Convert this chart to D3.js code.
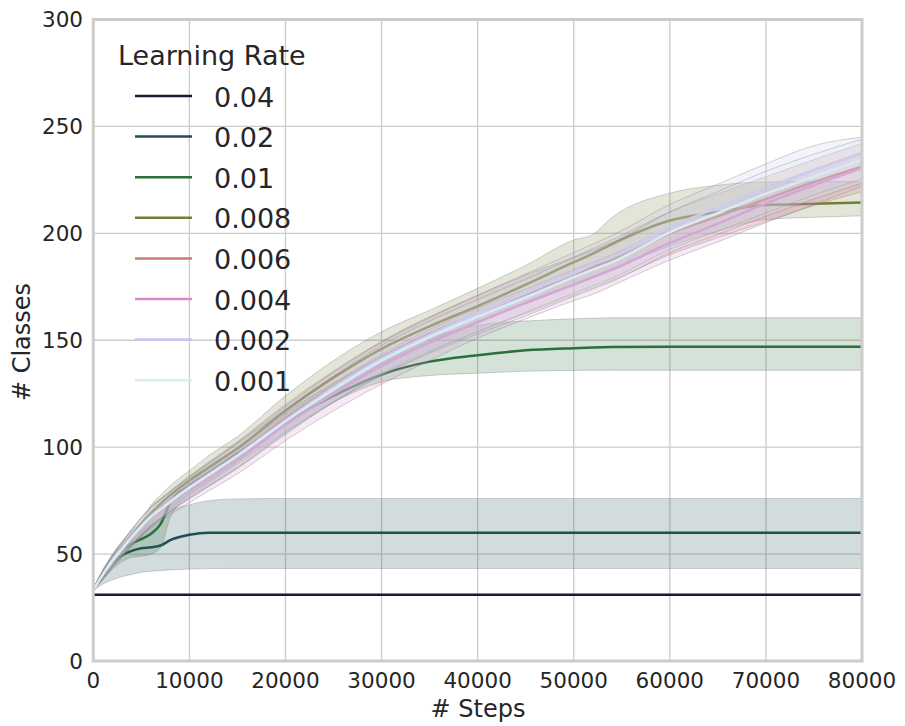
<!DOCTYPE html>
<html>
<head>
<meta charset="utf-8">
<script src="https://cdn.jsdelivr.net/npm/d3@7"></script>
<style>
  html, body { margin: 0; padding: 0; background: #ffffff; }
  svg { display: block; }
  text { font-family: "DejaVu Sans", sans-serif; fill: #262626; }
</style>
</head>
<body>
<svg id="chart" width="905" height="726"></svg>
<script>
// ---------------- DATA ----------------
const steps = [0,1000,2000,3000,4000,5000,6000,7000,8000,10000,12000,15000,20000,25000,30000,35000,40000,45000,50000,52000,54000,60000,65000,70000,75000,80000];

const learningRates = ["0.04","0.02","0.01","0.008","0.006","0.004","0.002","0.001"];
const seriesColors = ["#1c1836","#1d4f55","#2a6f3c","#727d3a","#c97d75","#d98acc","#c8c4f0","#d3eef2"];

const mean004 = [31,31,31,31,31,31,31,31,31,31,31,31,31,31,31,31,31,31,31,31,31,31,31,31,31,31];

const mean002 = [33,41,46,49.5,51.5,52.7,53.2,54,56.5,59,60,60,60,60,60,60,60,60,60,60,60,60,60,60,60,60];
const lo002   = [33,36,38,39.5,40.5,41.5,42,42.3,42.6,43,43.2,43.3,43.3,43.3,43.3,43.3,43.3,43.3,43.3,43.3,43.3,43.3,43.3,43.3,43.3,43.3];
const hi002   = [33,43,49,54,58,61,64,66.5,70,73,75,75.8,76,76,76,76,76,76,76,76,76,76,76,76,76,76];

const mean001 = [33,40.5,46.5,51.5,55,57,59.5,64,74,82,88,97,111.5,124,134,140,143,145.3,146.3,146.6,146.8,147,147,147,147,147];
const lo001   = [33,38,43,46.5,48.5,49,50,53,67,77,83,92,107,121,130.5,133.5,134.6,135.5,135.9,136,136,136,136,136,136,136];
const hi001   = [33,42,49,54.5,59.5,64,68,72,76,83.5,90,99.5,116,130,142,151,157,159,160,160.3,160.5,160.5,160.5,160.5,160.5,160.5];

const mean0008 = [33,40,46.5,52.5,58.5,64,69,73.5,77.5,84.5,90.5,99.5,117,132.5,146,156.5,166,176,186.5,190.5,195,206,210,213.3,213.8,214.4];
const lo0008   = [33,38.5,44,49,54,58.5,63,67,71,78,84,93,110.5,126,139,148.5,158,167,176,180,183.5,194,201,206.5,207.5,208.2];
const hi0008   = [33,42,50,56,61,65,73,77.5,82,89,96,105,124,140.5,154,164,174.3,185,196.9,199.5,207.5,218.8,222.5,224,224.2,224.2];

const mean0006 = [33,40.5,47,52.5,58,63,67.5,71.5,75,81.5,87.5,96.5,113.5,128.5,142,153,162.5,171.5,180,184,187.5,200,208,216,224,231.2];
const lo0006   = [33,39,44.5,49.5,54.5,59,63,67,70.5,76.5,82,90.5,107,121.5,134.5,145,154,162.5,171,174.5,178,190,198,205.5,213,219.5];
const hi0006   = [33,42,49.5,55.5,61.5,67,72,76,79.5,86.5,93,102.5,120,135.5,149.5,161,171,180.5,189,193,197,210,218.5,226.5,234.5,242];

const mean0004 = [33,40,46.5,52,57.5,62.5,67,70.5,74,80,86,94.5,110.5,125,138,149,158.5,167.5,176,179.5,183,195.5,204.5,214,222.5,230.5];
const lo0004   = [33,38,43.5,48.5,53.5,58,62,65.5,68.5,74,79.5,87.5,103,117,129.5,140.5,151,160,168.5,171.5,175.5,187.5,196,205,213.5,222];
const hi0004   = [33,41.5,48.5,54.5,60,65,69.5,73.5,77,83.5,90,99,115.5,130,143.5,155,165,174,183,186.5,190,203,212,221.5,230,238];

const mean0002 = [33,40.5,47,52.5,58,63,67.5,71,74.5,81,87,96,112.5,128,141.5,152.5,162.5,172,181.5,185.5,189,203,212,221,229.5,237.4];
const lo0002   = [33,39,44.5,49.5,54.5,59,63,66.5,70,76,81.5,90,106,121,134,144.5,154,163,172,175.5,179,192.5,201,209.5,218,225.5];
const hi0002   = [33,42,49.5,55.5,61.5,67,72,75.5,79,86,92.5,102,119,135,149,160.5,171,181,191,195,199,213.5,223,232.5,241,245];

const mean0001 = [33,40.5,47,52.5,58,63,67.5,71,74.5,81,87,96,112,127,140.5,151.5,161,170,179.5,183,186.5,200.5,209.5,218.5,226.5,234.4];
const lo0001   = [33,39,44.5,49.5,54.5,59,63,66.5,70,76,82,90.5,106.5,121,133.5,144,153,161.5,170.5,174,177.5,191,199.5,208,216,223.5];
const hi0001   = [33,42,49.5,55.5,61.5,67,72,75.5,79,86,92,101.5,117.5,133,147.5,159,169,178.5,188.5,192,195.5,210,219.5,229,237,244];

const xTicks = [0,10000,20000,30000,40000,50000,60000,70000,80000];
const yTicks = [0,50,100,150,200,250,300];

const series = [
  {lr:"0.04",  mean:mean004,  lo:null,   hi:null},
  {lr:"0.02",  mean:mean002,  lo:lo002,  hi:hi002},
  {lr:"0.01",  mean:mean001,  lo:lo001,  hi:hi001},
  {lr:"0.008", mean:mean0008, lo:lo0008, hi:hi0008},
  {lr:"0.006", mean:mean0006, lo:lo0006, hi:hi0006},
  {lr:"0.004", mean:mean0004, lo:lo0004, hi:hi0004},
  {lr:"0.002", mean:mean0002, lo:lo0002, hi:hi0002},
  {lr:"0.001", mean:mean0001, lo:lo0001, hi:hi0001}
];

// ---------------- LAYOUT ----------------
const svg = d3.select("#chart");
const L = 93.3, R = 862, T = 19.5, B = 661;
const x = d3.scaleLinear().domain([0, 80000]).range([L, R]);
const y = d3.scaleLinear().domain([0, 300]).range([B, T]);
const color = d3.scaleOrdinal().domain(learningRates).range(seriesColors);

// gridlines
const grid = svg.append("g");
grid.selectAll("line.vx").data(xTicks).enter().append("line")
  .attr("x1", d => x(d)).attr("x2", d => x(d)).attr("y1", T).attr("y2", B)
  .attr("stroke", "#cccccc").attr("stroke-width", 1.3);
grid.selectAll("line.hy").data(yTicks).enter().append("line")
  .attr("y1", d => y(d)).attr("y2", d => y(d)).attr("x1", L).attr("x2", R)
  .attr("stroke", "#cccccc").attr("stroke-width", 1.3);

// data
const plot = svg.append("g");
const curve = d3.curveMonotoneX;
series.forEach(s => {
  const c = color(s.lr);
  if (s.lo) {
    const area = d3.area()
      .x((d, i) => x(steps[i]))
      .y0((d, i) => y(s.lo[i]))
      .y1((d, i) => y(s.hi[i]))
      .curve(curve);
    plot.append("path").datum(s.mean)
      .attr("d", area)
      .attr("fill", c).attr("fill-opacity", 0.2)
      .attr("stroke", "#7a7a7a").attr("stroke-opacity", 0.35).attr("stroke-width", 1);
  }
  const line = d3.line().x((d, i) => x(steps[i])).y(d => y(d)).curve(curve);
  plot.append("path").datum(s.mean)
    .attr("d", line).attr("fill", "none")
    .attr("stroke", c).attr("stroke-width", 2.5);
});

// frame
svg.append("rect").attr("x", L).attr("y", T).attr("width", R - L).attr("height", B - T)
  .attr("fill", "none").attr("stroke", "#cccccc").attr("stroke-width", 3);

// tick labels
svg.append("g").selectAll("text").data(xTicks).enter().append("text")
  .attr("x", d => x(d)).attr("y", 688)
  .attr("text-anchor", "middle").attr("font-size", 21.5)
  .text(d => d);
svg.append("g").selectAll("text").data(yTicks).enter().append("text")
  .attr("x", 83).attr("y", d => y(d) + 7.8)
  .attr("text-anchor", "end").attr("font-size", 21.5)
  .text(d => d);

// axis labels
svg.append("text").attr("x", 478).attr("y", 717)
  .attr("text-anchor", "middle").attr("font-size", 24).text("# Steps");
svg.append("text").attr("transform", "translate(30,342) rotate(-90)")
  .attr("text-anchor", "middle").attr("font-size", 24).text("# Classes");

// legend
const leg = svg.append("g");
leg.append("text").attr("x", 118).attr("y", 65).attr("font-size", 27).text("Learning Rate");
learningRates.forEach((lr, i) => {
  const cy = 96 + i * 40.6;
  leg.append("line").attr("x1", 135).attr("x2", 192).attr("y1", cy).attr("y2", cy)
    .attr("stroke", color(lr)).attr("stroke-width", 2.5);
  leg.append("text").attr("x", 214).attr("y", cy + 10.5).attr("font-size", 27).text(lr);
});
</script>
</body>
</html>
